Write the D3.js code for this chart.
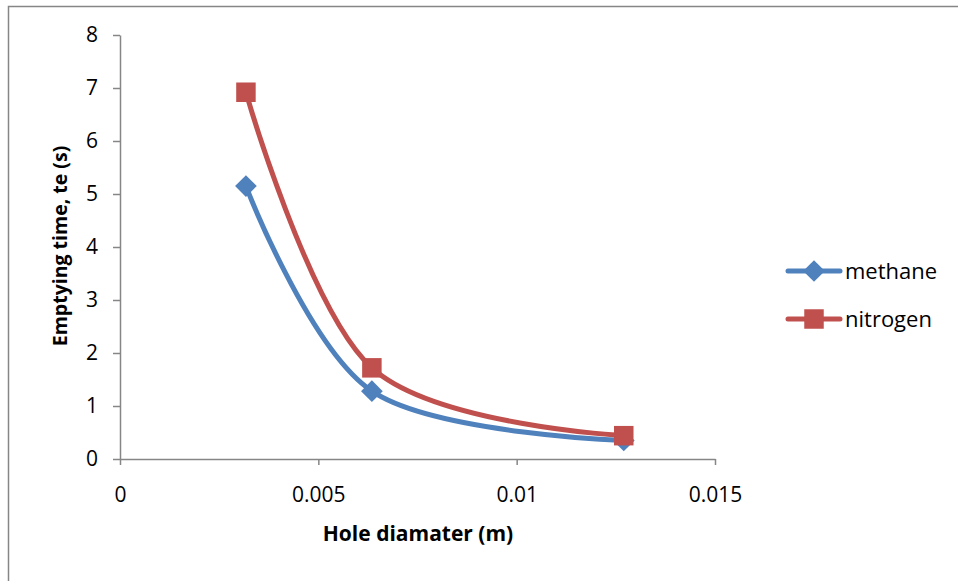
<!DOCTYPE html>
<html>
<head>
<meta charset="utf-8">
<script src="https://cdn.jsdelivr.net/npm/d3@7"></script>
<style>
  body { margin: 0; background: #fff; }
  svg text { font-family: "Open Sans", "Noto Sans", sans-serif; fill: #000; }
</style>
</head>
<body>
<div class="canvas"></div>
<script>
// hole diameters (m) and emptying times (s)
const diameters = [0.003175, 0.00635, 0.0127];
const methane = [5.15, 1.28, 0.35];
const nitrogen = [6.92, 1.72, 0.44];
const seriesNames = ['methane', 'nitrogen'];
const xTicks = [0, 0.005, 0.01, 0.015];
const yTicks = [0, 1, 2, 3, 4, 5, 6, 7, 8];

const width = 958, height = 581;
let margin = { top: 35, right: 243, bottom: 122, left: 120 };
let graphWidth = width - margin.left - margin.right;
let graphHeight = height - margin.top - margin.bottom;

const svg = d3.select('.canvas').append('svg')
    .attr('width', width)
    .attr('height', height);

// chart border (only top and left show in the frame)
svg.append('rect')
    .attr('x', 8.5)
    .attr('y', 6.5)
    .attr('width', width)
    .attr('height', height)
    .attr('fill', 'none')
    .attr('stroke', '#868686')
    .attr('stroke-width', 1.5);

const graph = svg.append('g')
    .attr('transform', `translate(${margin.left}, ${margin.top})`);

// Scales
const x = d3.scaleLinear()
    .domain([0, 0.015])
    .range([0, graphWidth]);

const y = d3.scaleLinear()
    .domain([0, 8])
    .range([graphHeight, 0]);

// Axis
const xAxis = d3.axisBottom(x).tickValues(xTicks).tickSize(6).tickSizeOuter(0)
    .tickFormat(d => d === 0 ? '0' : String(+d.toFixed(3)));
const yAxis = d3.axisLeft(y).tickValues(yTicks).tickSize(7).tickSizeOuter(0).tickPadding(15)
    .tickFormat(d3.format('d'));

const gx = graph.append('g')
    .attr('transform', `translate(0, ${graphHeight})`)
    .call(xAxis);

const gy = graph.append('g')
    .call(yAxis);

[gx, gy].forEach(g => {
    g.select('.domain').attr('stroke', '#868686').attr('stroke-width', 1.5);
    g.selectAll('.tick line').attr('stroke', '#868686').attr('stroke-width', 1.5);
    g.selectAll('.tick text')
        .attr('font-size', '21px')
        .attr('font-family', '"Open Sans", sans-serif')
        .attr('fill', '#000');
});
gx.selectAll('.tick text').attr('y', 43).attr('dy', null);

// axis titles
svg.append('text')
    .attr('x', 418)
    .attr('y', 541)
    .attr('text-anchor', 'middle')
    .attr('font-size', '21px')
    .attr('font-weight', 'bold')
    .text('Hole diamater (m)');

svg.append('text')
    .attr('transform', 'translate(67, 246) rotate(-90)')
    .attr('text-anchor', 'middle')
    .attr('font-size', '19.5px')
    .attr('font-weight', 'bold')
    .text('Emptying time, te (s)');

// lines
const colors = ['#4F81BD', '#C0504D'];
const allSeries = [methane, nitrogen];

const line = d3.line()
    .x((d, i) => x(diameters[i]))
    .y(d => y(d))
    .curve(d3.curveCatmullRom.alpha(0));

allSeries.forEach((vals, s) => {
    graph.append('path')
        .datum(vals)
        .attr('fill', 'none')
        .attr('stroke', colors[s])
        .attr('stroke-width', 5)
        .attr('stroke-linecap', 'round')
        .attr('d', line);
});

const diamond = d3.symbol().type(d3.symbolDiamond2).size(300);
const square = d3.symbol().type(d3.symbolSquare).size(380);
const symbols = [diamond, square];

allSeries.forEach((vals, s) => {
    graph.selectAll(`.pt${s}`)
        .data(vals)
        .enter()
        .append('path')
        .attr('class', `pt${s}`)
        .attr('transform', (d, i) => `translate(${x(diameters[i])}, ${y(d)})`)
        .attr('d', symbols[s]())
        .attr('fill', colors[s]);
});

// legend
const legend = svg.append('g').attr('transform', 'translate(786, 271)');
seriesNames.forEach((name, s) => {
    const row = legend.append('g').attr('transform', `translate(0, ${s * 48})`);
    row.append('line')
        .attr('x1', 2).attr('x2', 54)
        .attr('stroke', colors[s])
        .attr('stroke-width', 5)
        .attr('stroke-linecap', 'round');
    row.append('path')
        .attr('transform', 'translate(28, 0)')
        .attr('d', symbols[s]())
        .attr('fill', colors[s]);
    row.append('text')
        .attr('x', 59)
        .attr('dy', '0.35em')
        .attr('font-size', '22px')
        .text(name);
});
</script>
</body>
</html>
